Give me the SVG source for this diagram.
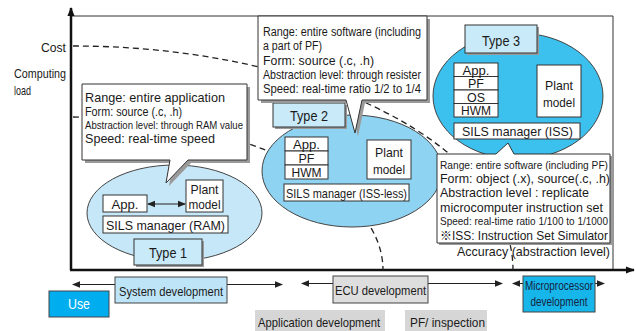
<svg xmlns="http://www.w3.org/2000/svg" width="636" height="331" viewBox="0 0 636 331">
  <defs>
    <marker id="headSmall" viewBox="0 0 8 8" refX="7" refY="4" markerWidth="8" markerHeight="8" markerUnits="userSpaceOnUse" orient="auto-start-reverse">
      <path d="M0,0.8 L8,4 L0,7.2 Z" fill="#222"/>
    </marker>
    <marker id="headAxis" viewBox="0 0 10 10" refX="9" refY="5" markerWidth="9" markerHeight="9" markerUnits="userSpaceOnUse" orient="auto">
      <path d="M0,1 L10,5 L0,9 Z" fill="#111"/>
    </marker>
  </defs>
  <style>
    .t { font-family: "Liberation Sans", "Noto Sans CJK JP", sans-serif; fill: #1a1a1a; }
    .box { fill: #ffffff; stroke: #333333; stroke-width: 1; }
    .lbl { fill: #c9eaf9; stroke: #333333; stroke-width: 1; }
    .shadow { fill: #9a9a9a; stroke: none; }
    .dash { fill: none; stroke: #222222; stroke-width: 1.3; stroke-dasharray: 6 4; }
    .ell { stroke: #444444; stroke-width: 1; }
    .frame { fill: none; stroke: #333333; stroke-width: 1; }
    .axis { fill: none; stroke: #111111; stroke-width: 2.5; }
    .span { fill: none; stroke: #222222; stroke-width: 1; marker-start: url(#headSmall); marker-end: url(#headSmall); }
  </style>

  <!-- frame and axes -->
  <g id="axes">
    <path class="frame" d="M72,16 H613 V270"/>
    <line class="axis" x1="71" y1="270" x2="71" y2="8" marker-end="url(#headAxis)"/>
    <line class="axis" x1="70" y1="270" x2="634" y2="270" marker-end="url(#headAxis)"/>
    <text class="t" x="66" y="51.5" font-size="13.5" text-anchor="end" textLength="25" lengthAdjust="spacingAndGlyphs">Cost</text>
    <text class="t" x="14" y="77.5" font-size="13.5" textLength="52" lengthAdjust="spacingAndGlyphs">Computing</text>
    <text class="t" x="14" y="95" font-size="13.5" textLength="17" lengthAdjust="spacingAndGlyphs">load</text>
    <text class="t" x="457" y="256" font-size="13" textLength="153" lengthAdjust="spacingAndGlyphs">Accuracy (abstraction level)</text>
  </g>

  <!-- cost and computing-load trend curves -->
  <g id="connectors">
    <path class="dash" d="M73,46 A440,224 0 0 1 513,270"/>
    <path class="dash" d="M73,117 A310,153 0 0 1 383,270"/>
  </g>

  <!-- Type 1 -->
  <g id="type1">
    <ellipse class="ell" cx="174.5" cy="213" rx="87.5" ry="48" fill="#c6e7f7"/>
    <rect class="box" x="103" y="195" width="44" height="17"/>
    <text class="t" x="125" y="208.5" font-size="13" text-anchor="middle" textLength="27" lengthAdjust="spacingAndGlyphs">App.</text>
    <rect class="box" x="186" y="180" width="37" height="32"/>
    <text class="t" x="204.5" y="193.5" font-size="13" text-anchor="middle" textLength="28" lengthAdjust="spacingAndGlyphs">Plant</text>
    <text class="t" x="204.5" y="208.5" font-size="13" text-anchor="middle" textLength="32" lengthAdjust="spacingAndGlyphs">model</text>
    <line x1="148" y1="204" x2="185" y2="204" stroke="#222" stroke-width="1" marker-start="url(#headSmall)" marker-end="url(#headSmall)"/>
    <rect class="box" x="103" y="216" width="125" height="17"/>
    <text class="t" x="165.5" y="229.5" font-size="13" text-anchor="middle" textLength="119" lengthAdjust="spacingAndGlyphs">SILS manager (RAM)</text>
    <rect class="shadow" x="136" y="241" width="68" height="26"/>
    <rect class="lbl" x="134" y="239" width="68" height="26"/>
    <text class="t" x="168" y="257.5" font-size="14" text-anchor="middle" textLength="38" lengthAdjust="spacingAndGlyphs">Type 1</text>
  </g>

  <g id="callout1">
    <path class="shadow" d="M85,87 H250 V163 H191 L169,186 L173,163 H85 Z"/>
    <path class="box" d="M82,84 H247 V160 H188 L166,183 L170,160 H82 Z"/>
    <text class="t" x="85" y="101.5" font-size="13" textLength="140" lengthAdjust="spacingAndGlyphs">Range: entire application</text>
    <text class="t" x="85" y="116" font-size="13" textLength="97" lengthAdjust="spacingAndGlyphs">Form: source (.c, .h)</text>
    <text class="t" x="85" y="129" font-size="11" textLength="158" lengthAdjust="spacingAndGlyphs">Abstraction level: through RAM value</text>
    <text class="t" x="85" y="143" font-size="13" textLength="130" lengthAdjust="spacingAndGlyphs">Speed: real-time speed</text>
  </g>

  <!-- Type 2 -->
  <g id="type2">
    <ellipse class="ell" cx="352" cy="171" rx="90" ry="56" fill="#8ed3f1"/>
    <rect class="box" x="285" y="137" width="43" height="14"/>
    <rect class="box" x="285" y="151" width="43" height="14"/>
    <rect class="box" x="285" y="165" width="43" height="14"/>
    <text class="t" x="306.5" y="148.5" font-size="13" text-anchor="middle" textLength="27" lengthAdjust="spacingAndGlyphs">App.</text>
    <text class="t" x="306.5" y="162.5" font-size="13" text-anchor="middle" textLength="16" lengthAdjust="spacingAndGlyphs">PF</text>
    <text class="t" x="306.5" y="176.5" font-size="13" text-anchor="middle" textLength="30" lengthAdjust="spacingAndGlyphs">HWM</text>
    <rect class="box" x="367" y="140" width="44" height="39"/>
    <text class="t" x="389" y="157" font-size="13" text-anchor="middle" textLength="28" lengthAdjust="spacingAndGlyphs">Plant</text>
    <text class="t" x="389" y="173.5" font-size="13" text-anchor="middle" textLength="32" lengthAdjust="spacingAndGlyphs">model</text>
    <rect class="box" x="284" y="184" width="125" height="17"/>
    <text class="t" x="346.5" y="197.5" font-size="13" text-anchor="middle" textLength="121" lengthAdjust="spacingAndGlyphs">SILS manager (ISS-less)</text>
    <rect class="shadow" x="275" y="105" width="72" height="24"/>
    <rect class="lbl" x="273" y="103" width="72" height="24"/>
    <text class="t" x="309" y="120.5" font-size="14" text-anchor="middle" textLength="38" lengthAdjust="spacingAndGlyphs">Type 2</text>
  </g>

  <g id="callout2">
    <path class="shadow" d="M261,19 H430 V103 H365 L358,136 L349,103 H261 Z"/>
    <path class="box" d="M258,16 H427 V100 H362 L355,133 L346,100 H258 Z"/>
    <text class="t" x="263" y="36" font-size="12.5" textLength="158" lengthAdjust="spacingAndGlyphs">Range: entire software (including</text>
    <text class="t" x="263" y="50" font-size="12.5" textLength="59" lengthAdjust="spacingAndGlyphs">a part of PF)</text>
    <text class="t" x="263" y="64.5" font-size="13.5" textLength="111" lengthAdjust="spacingAndGlyphs">Form: source (.c, .h)</text>
    <text class="t" x="263" y="78.5" font-size="13" textLength="158" lengthAdjust="spacingAndGlyphs">Abstraction level: through resister</text>
    <text class="t" x="263" y="93" font-size="13" textLength="158" lengthAdjust="spacingAndGlyphs">Speed: real-time ratio 1/2 to 1/4</text>
  </g>

  <!-- Type 3 -->
  <g id="type3">
    <ellipse class="ell" cx="518" cy="96" rx="85" ry="63" fill="#3cc0ee"/>
    <rect class="box" x="454" y="63" width="44" height="13.5"/>
    <rect class="box" x="454" y="76.5" width="44" height="13.5"/>
    <rect class="box" x="454" y="90" width="44" height="13.5"/>
    <rect class="box" x="454" y="103.5" width="44" height="13.5"/>
    <text class="t" x="476" y="74.5" font-size="13" text-anchor="middle" textLength="27" lengthAdjust="spacingAndGlyphs">App.</text>
    <text class="t" x="476" y="88" font-size="13" text-anchor="middle" textLength="16" lengthAdjust="spacingAndGlyphs">PF</text>
    <text class="t" x="476" y="101.5" font-size="13" text-anchor="middle" textLength="18" lengthAdjust="spacingAndGlyphs">OS</text>
    <text class="t" x="476" y="115" font-size="13" text-anchor="middle" textLength="30" lengthAdjust="spacingAndGlyphs">HWM</text>
    <rect class="box" x="537" y="65" width="44" height="52"/>
    <text class="t" x="559" y="89.5" font-size="13" text-anchor="middle" textLength="28" lengthAdjust="spacingAndGlyphs">Plant</text>
    <text class="t" x="559" y="106.5" font-size="13" text-anchor="middle" textLength="32" lengthAdjust="spacingAndGlyphs">model</text>
    <rect class="box" x="454" y="123" width="126" height="16"/>
    <text class="t" x="517.5" y="136" font-size="13" text-anchor="middle" textLength="111" lengthAdjust="spacingAndGlyphs">SILS manager (ISS)</text>
    <rect class="shadow" x="467" y="27" width="72" height="28"/>
    <rect class="lbl" x="465" y="25" width="72" height="28"/>
    <text class="t" x="501" y="46" font-size="14" text-anchor="middle" textLength="38" lengthAdjust="spacingAndGlyphs">Type 3</text>
  </g>

  <g id="callout3">
    <path class="shadow" d="M439,156 H612 V245 H439 Z"/>
    <path class="box" d="M437,154 H496 L508,143 L514,154 H610 V243 H437 Z"/>
    <text class="t" x="440" y="168.5" font-size="11" textLength="168" lengthAdjust="spacingAndGlyphs">Range: entire software (including PF)</text>
    <text class="t" x="440" y="182.5" font-size="13" textLength="170" lengthAdjust="spacingAndGlyphs">Form: object (.x), source(.c, .h)</text>
    <text class="t" x="440" y="197" font-size="13" textLength="149" lengthAdjust="spacingAndGlyphs">Abstraction level : replicate</text>
    <text class="t" x="440" y="211.5" font-size="13" textLength="163" lengthAdjust="spacingAndGlyphs">microcomputer instruction set</text>
    <text class="t" x="440" y="225" font-size="11" textLength="168" lengthAdjust="spacingAndGlyphs">Speed: real-time ratio 1/100 to 1/1000</text>
    <text class="t" x="440" y="239.5" font-size="13" textLength="168" lengthAdjust="spacingAndGlyphs">※ISS: Instruction Set Simulator</text>
  </g>

  <!-- development phases along the accuracy axis -->
  <g id="phase-system">
    <line class="span" x1="73" y1="284.5" x2="282" y2="284.5"/>
    <rect x="115" y="277" width="112" height="26" fill="#bee5f7" stroke="#444" stroke-width="1"/>
    <text class="t" x="171" y="295.5" font-size="13.5" text-anchor="middle" textLength="104" lengthAdjust="spacingAndGlyphs">System development</text>
  </g>
  <g id="phase-use">
    <rect x="49" y="291" width="60" height="26" fill="#00aeef" stroke="#444" stroke-width="1"/>
    <text class="t" x="79" y="308.5" font-size="14" text-anchor="middle" style="fill:#ffffff" textLength="22" lengthAdjust="spacingAndGlyphs">Use</text>
  </g>
  <g id="phase-ecu">
    <line class="span" x1="302" y1="283.5" x2="502" y2="283.5"/>
    <rect x="333" y="276" width="95" height="27" fill="#dedede" stroke="#444" stroke-width="1"/>
    <text class="t" x="380.5" y="295" font-size="13.5" text-anchor="middle" textLength="91" lengthAdjust="spacingAndGlyphs">ECU development</text>
  </g>
  <g id="phase-micro">
    <line class="span" x1="513" y1="283.5" x2="604" y2="283.5"/>
    <rect x="523" y="276" width="72" height="36" fill="#17b6ea" stroke="#444" stroke-width="1"/>
    <text class="t" x="559" y="289.5" font-size="12" text-anchor="middle" style="fill:#14233f" textLength="68" lengthAdjust="spacingAndGlyphs">Microprocessor</text>
    <text class="t" x="559" y="306" font-size="12" text-anchor="middle" style="fill:#14233f" textLength="57" lengthAdjust="spacingAndGlyphs">development</text>
  </g>
  <g id="phase-app">
    <rect x="255" y="310" width="130" height="21" fill="#d6d6d6"/>
    <text class="t" x="258" y="326.5" font-size="13" textLength="122" lengthAdjust="spacingAndGlyphs">Application development</text>
  </g>
  <g id="phase-pf">
    <rect x="405" y="310" width="82" height="21" fill="#d6d6d6"/>
    <text class="t" x="410" y="326.5" font-size="13" textLength="75" lengthAdjust="spacingAndGlyphs">PF/ inspection</text>
  </g>
</svg>
